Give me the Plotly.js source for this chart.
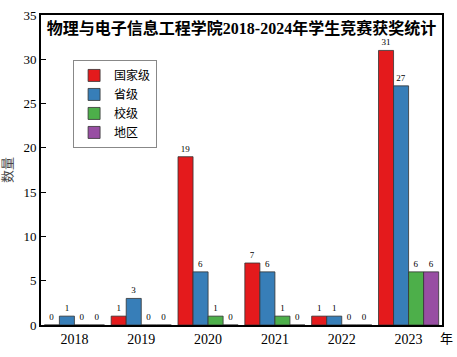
<!DOCTYPE html>
<html>
<head>
<meta charset="utf-8">
<script src="https://cdn.plot.ly/plotly-3.0.1.min.js"></script>
<style>html,body{margin:0;padding:0;background:#fff;}#chart{width:457px;height:357px;}</style>
</head>
<body>
<div id="chart"></div>
<script>
const years = ['2018', '2019', '2020', '2021', '2022', '2023'];
const national = [0, 1, 19, 7, 1, 31];
const provincial = [1, 3, 6, 6, 1, 27];
const school = [0, 0, 1, 1, 0, 6];
const regional = [0, 0, 0, 0, 0, 6];
const seriesNames = ['国家级', '省级', '校级', '地区'];
const colors = ['#e41a1c', '#377eb8', '#4daf4a', '#984ea3'];
const yTicks = [0, 5, 10, 15, 20, 25, 30, 35];

const serif = '"Liberation Serif", "Times New Roman", "Noto Sans CJK SC", serif';
const cjkSerif = '"Liberation Serif", "Noto Sans CJK SC", serif';

const allSeries = [national, provincial, school, regional];
const traces = allSeries.map((vals, i) => ({
  type: 'bar',
  name: seriesNames[i],
  x: years,
  y: vals,
  text: vals.map(String),
  textposition: 'outside',
  textfont: {family: serif, size: 9, color: '#000'},
  cliponaxis: false,
  marker: {color: colors[i], line: {color: '#333', width: 0.8}}
}));

const layout = {
  width: 457, height: 357,
  margin: {l: 41, r: 15, t: 15, b: 32},
  paper_bgcolor: '#fff', plot_bgcolor: '#fff',
  barmode: 'group', bargap: 0.1, bargroupgap: 0,
  showlegend: true,
  title: {
    text: '<b>物理与电子信息工程学院2018-2024年学生竞赛获奖统计</b>',
    font: {family: cjkSerif, size: 16, color: '#000'},
    xref: 'paper', x: 0.5, xanchor: 'center',
    yref: 'paper', y: 0.958, yanchor: 'middle'
  },
  xaxis: {
    type: 'category', range: [-0.5, 5.5],
    showline: true, linecolor: '#000', linewidth: 2, mirror: true,
    ticks: '', showgrid: false, zeroline: false,
    tickfont: {family: serif, size: 14, color: '#000'}
  },
  yaxis: {
    range: [0, 35], tickvals: yTicks,
    showline: true, linecolor: '#000', linewidth: 2, mirror: true,
    ticks: 'inside', ticklen: 5, tickwidth: 1, tickcolor: '#000',
    showgrid: false, zeroline: false,
    tickfont: {family: serif, size: 13, color: '#000'},
    title: {text: '数量', font: {family: cjkSerif, size: 13, color: '#444'}, standoff: 8}
  },
  legend: {
    x: 0.08, y: 0.855, xanchor: 'left', yanchor: 'top',
    bgcolor: '#fff', bordercolor: '#888', borderwidth: 1,
    font: {family: cjkSerif, size: 12, color: '#000'},
    tracegroupgap: 0, itemwidth: 30
  },
  annotations: [{
    text: '年', xref: 'paper', yref: 'paper', x: 1.0, y: 0, xanchor: 'left', yanchor: 'top',
    yshift: -4, xshift: -4, showarrow: false,
    font: {family: cjkSerif, size: 13, color: '#000'}
  }]
};

Plotly.newPlot('chart', traces, layout, {displayModeBar: false, staticPlot: true});
</script>
</body>
</html>
